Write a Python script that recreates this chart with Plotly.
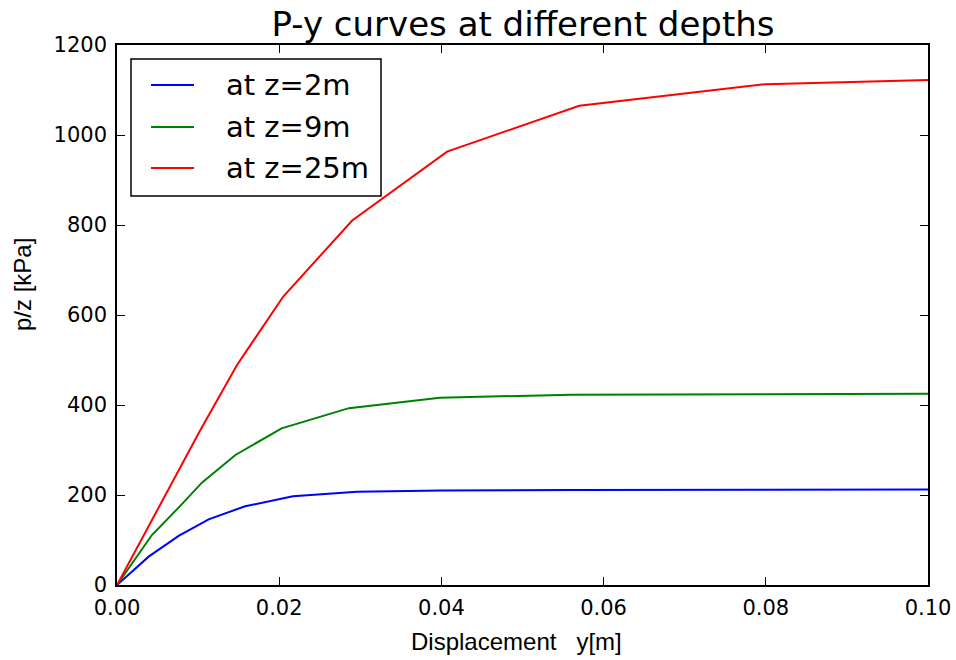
import plotly.graph_objects as go

# Data
x_z2 = [0, 0.0039, 0.0076, 0.0113, 0.0158, 0.0217, 0.0296, 0.0400, 0.0560, 0.0800, 0.1000]
p_z2 = [0, 63, 109, 146, 175, 197, 207, 210, 211, 212, 212]

x_z9 = [0, 0.0043, 0.0076, 0.0105, 0.0146, 0.0203, 0.0286, 0.0398, 0.0560, 0.0800, 0.1000]
p_z9 = [0, 111, 172, 228, 289, 348, 393, 416, 423, 425, 425]

x_z25 = [0, 0.0103, 0.0148, 0.0205, 0.0290, 0.0407, 0.0570, 0.0800, 0.1000]
p_z25 = [0, 345, 489, 641, 810, 963, 1065, 1113, 1122]

names = ["at z=2m", "at z=9m", "at z=25m"]
colors = ["#0000ff", "#008000", "#ff0000"]
series = [(x_z2, p_z2), (x_z9, p_z9), (x_z25, p_z25)]

x_ticks = [0, 0.02, 0.04, 0.06, 0.08, 0.1]
x_ticktext = ["0.00", "0.02", "0.04", "0.06", "0.08", "0.10"]
y_ticks = [0, 200, 400, 600, 800, 1000, 1200]

FONT = "DejaVu Sans"
LFONT = "Liberation Sans"

# body margin removed by post_script; target plot area in screenshot: x 117..928, y 45..585
W, H = 956, 660
ml, mt = 117, 45
pw, ph = 811, 540
mr = W - ml - pw
mb = H - mt - ph

def px(xp):
    return (xp - ml) / pw

def py(yp):
    return 1 - (yp - mt) / ph

fig = go.Figure()
for (xs, ys), name, col in zip(series, names, colors):
    fig.add_trace(go.Scatter(x=xs, y=ys, mode="lines", name=name,
                             line=dict(color=col, width=2), showlegend=False))

axis_common = dict(
    showgrid=False, zeroline=False, showline=True, linecolor="black", linewidth=1.5,
    mirror="ticks", ticks="inside", ticklen=8, tickwidth=1, tickcolor="black",
    tickfont=dict(family=FONT, size=21, color="black"), automargin=False,
)

fig.update_xaxes(range=[0, 0.1], tickvals=x_ticks, ticktext=x_ticktext,
                 ticklabelstandoff=3, **axis_common)
fig.update_yaxes(range=[0, 1200], tickvals=y_ticks,
                 ticklabelstandoff=4, **axis_common)

# Legend box (matplotlib-style)
L, T, R, B = 131, 59, 381, 196
shapes = [dict(type="rect", xref="paper", yref="paper", x0=px(L), x1=px(R), y0=py(B), y1=py(T),
               line=dict(color="black", width=1.5), fillcolor="white", layer="above")]
annotations = []
rows = [85, 127, 168]
for name, col, yr in zip(names, colors, rows):
    shapes.append(dict(type="line", xref="paper", yref="paper", x0=px(151), x1=px(194),
                       y0=py(yr), y1=py(yr), line=dict(color=col, width=2), layer="above"))
    annotations.append(dict(xref="paper", yref="paper", x=px(224), y=py(yr), text=name,
                            showarrow=False, xanchor="left", yanchor="middle",
                            font=dict(family=FONT, size=29, color="black")))

# Axis titles
annotations.append(dict(xref="paper", yref="paper", x=px(516), y=py(641),
                        text="Displacement\u00a0\u00a0\u00a0y[m]", showarrow=False,
                        xanchor="center", yanchor="middle",
                        font=dict(family=LFONT, size=24, color="black")))
annotations.append(dict(xref="paper", yref="paper", x=px(22), y=py(285),
                        text="p/z [kPa]", showarrow=False, textangle=-90,
                        xanchor="center", yanchor="middle",
                        font=dict(family=LFONT, size=24, color="black")))

fig.update_layout(
    width=W, height=H,
    margin=dict(l=ml, r=mr, t=mt, b=mb),
    paper_bgcolor="white", plot_bgcolor="white",
    title=dict(text="P-y curves at different depths", x=523 / W, xanchor="center",
               y=1 - 24 / H, yanchor="middle",
               font=dict(family=FONT, size=34, color="black")),
    shapes=shapes, annotations=annotations,
    showlegend=False,
)

fig.write_html("out.html", config={"displayModeBar": False},
               post_script="document.body.style.margin='0';document.body.style.overflow='hidden';")
